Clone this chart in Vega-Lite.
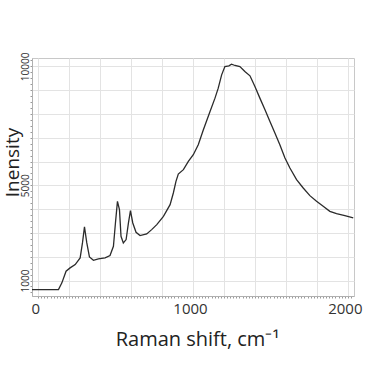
{
  "$schema": "https://vega.github.io/schema/vega-lite/v6.json",
  "width": 322,
  "height": 238,
  "autosize": {"type": "none"},
  "padding": {"left": 32, "top": 58, "right": 11, "bottom": 69},
  "background": "white",
  "config": {
    "view": {"stroke": "#c8c8c8", "strokeWidth": 1},
    "font": "Open Sans"
  },
  "data": {
    "values": [
      {"x": -40, "y": 621}, {"x": 131, "y": 621}, {"x": 153, "y": 902}, {"x": 180, "y": 1390},
      {"x": 206, "y": 1531}, {"x": 239, "y": 1670}, {"x": 271, "y": 1951}, {"x": 286, "y": 2580},
      {"x": 299, "y": 3251}, {"x": 314, "y": 2580}, {"x": 331, "y": 1993}, {"x": 357, "y": 1851},
      {"x": 389, "y": 1909}, {"x": 432, "y": 1951}, {"x": 464, "y": 2048}, {"x": 486, "y": 2440},
      {"x": 499, "y": 3419}, {"x": 512, "y": 4328}, {"x": 525, "y": 3979}, {"x": 535, "y": 2859},
      {"x": 550, "y": 2580}, {"x": 568, "y": 2720}, {"x": 583, "y": 3419}, {"x": 596, "y": 3937},
      {"x": 611, "y": 3419}, {"x": 632, "y": 3027}, {"x": 658, "y": 2887}, {"x": 701, "y": 2957},
      {"x": 733, "y": 3139}, {"x": 766, "y": 3349}, {"x": 809, "y": 3698}, {"x": 852, "y": 4188},
      {"x": 873, "y": 4678}, {"x": 890, "y": 5167}, {"x": 905, "y": 5475}, {"x": 938, "y": 5657},
      {"x": 970, "y": 6006}, {"x": 1002, "y": 6286}, {"x": 1034, "y": 6706}, {"x": 1067, "y": 7335},
      {"x": 1110, "y": 8105}, {"x": 1142, "y": 8664}, {"x": 1163, "y": 9084}, {"x": 1185, "y": 9643},
      {"x": 1206, "y": 9993}, {"x": 1232, "y": 10021}, {"x": 1249, "y": 10091}, {"x": 1271, "y": 10035},
      {"x": 1303, "y": 9993}, {"x": 1335, "y": 9783}, {"x": 1368, "y": 9601}, {"x": 1400, "y": 9154},
      {"x": 1432, "y": 8664}, {"x": 1465, "y": 8175}, {"x": 1497, "y": 7685}, {"x": 1529, "y": 7195},
      {"x": 1561, "y": 6706}, {"x": 1594, "y": 6146}, {"x": 1626, "y": 5727}, {"x": 1669, "y": 5237},
      {"x": 1712, "y": 4888}, {"x": 1755, "y": 4566}, {"x": 1798, "y": 4328}, {"x": 1841, "y": 4118},
      {"x": 1884, "y": 3909}, {"x": 1927, "y": 3809}, {"x": 1981, "y": 3727}, {"x": 2035, "y": 3629}
    ]
  },
  "mark": {"type": "line", "color": "#2b2b2b", "strokeWidth": 1.3, "clip": true},
  "encoding": {
    "x": {
      "field": "x",
      "type": "quantitative",
      "scale": {"domain": [-40, 2040], "nice": false, "zero": false},
      "axis": {
        "values": [0,20,40,60,80,100,120,140,160,180,200,220,240,260,280,300,320,340,360,380,400,420,440,460,480,500,520,540,560,580,600,620,640,660,680,700,720,740,760,780,800,820,840,860,880,900,920,940,960,980,1000,1020,1040,1060,1080,1100,1120,1140,1160,1180,1200,1220,1240,1260,1280,1300,1320,1340,1360,1380,1400,1420,1440,1460,1480,1500,1520,1540,1560,1580,1600,1620,1640,1660,1680,1700,1720,1740,1760,1780,1800,1820,1840,1860,1880,1900,1920,1940,1960,1980,2000,2020],
        "labelExpr": "datum.value % 1000 === 0 ? format(datum.value, 'd') : ''",
        "labelOverlap": false,
        "labelFontSize": 15,
        "labelColor": "#333333",
        "labelPadding": 3,
        "labelOffset": -3,
        "grid": true,
        "gridColor": "#e3e3e3",
        "gridOpacity": {"condition": {"test": "datum.value % 200 === 0", "value": 1}, "value": 0},
        "domain": true,
        "domainColor": "#b0b0b0",
        "ticks": true,
        "tickSize": 2,
        "tickColor": "#9a9a9a",
        "title": "Raman shift, cm⁻¹",
        "titleFontSize": 20,
        "titleFontWeight": "normal",
        "titleColor": "#222222",
        "titleX": 165,
        "titleY": 49,
        "titleBaseline": "alphabetic"
      }
    },
    "y": {
      "field": "y",
      "type": "quantitative",
      "scale": {"domain": [350, 10350], "nice": false, "zero": false},
      "axis": {
        "values": [500,750,1000,1250,1500,1750,2000,2250,2500,2750,3000,3250,3500,3750,4000,4250,4500,4750,5000,5250,5500,5750,6000,6250,6500,6750,7000,7250,7500,7750,8000,8250,8500,8750,9000,9250,9500,9750,10000,10250],
        "labelExpr": "(datum.value === 1000 || datum.value === 5000 || datum.value === 10000) ? format(datum.value, 'd') : ''",
        "labelOverlap": false,
        "labelAngle": -90,
        "labelAlign": "center",
        "labelBaseline": "middle",
        "labelFontSize": 10,
        "labelColor": "#333333",
        "labelPadding": 5,
        "grid": true,
        "gridColor": "#e3e3e3",
        "gridOpacity": {"condition": {"test": "datum.value % 1000 === 0", "value": 1}, "value": 0},
        "domain": true,
        "domainColor": "#b0b0b0",
        "ticks": true,
        "tickSize": 2,
        "tickColor": "#9a9a9a",
        "title": "Inensity",
        "titleFontSize": 19,
        "titleFontWeight": "normal",
        "titleColor": "#222222",
        "titleAngle": -90,
        "titleAlign": "center",
        "titleBaseline": "alphabetic",
        "titleX": -14,
        "titleY": 104
      }
    }
  }
}
